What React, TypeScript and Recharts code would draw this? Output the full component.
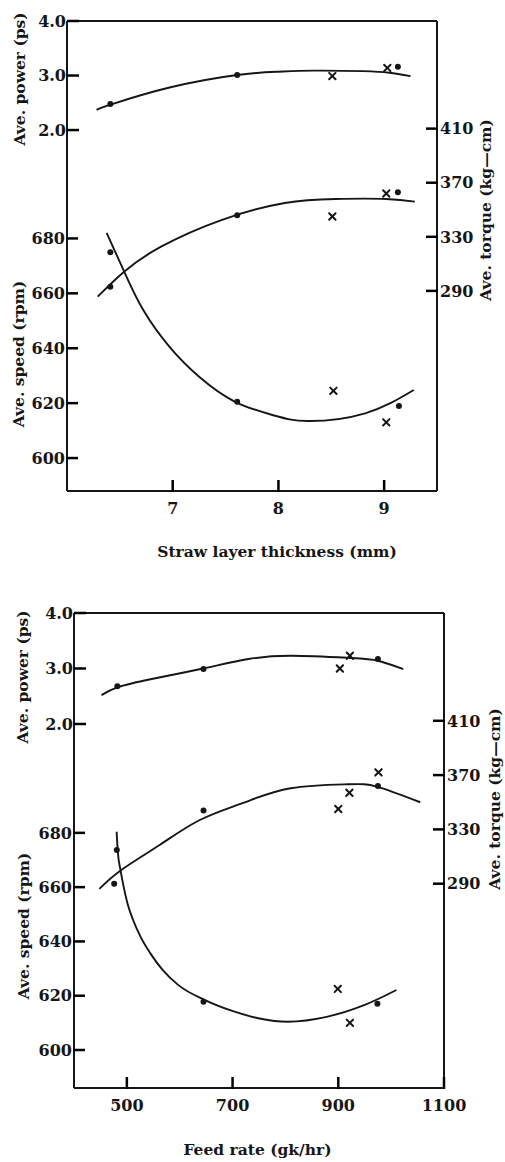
import React from 'react';
import { ComposedChart, Line, Scatter, XAxis, YAxis, ReferenceLine } from 'recharts';

const FONT = '"DejaVu Serif", "Liberation Serif", serif';
const INK = '#161616';
const TICK_INK = '#000000';

// Shared y-axis ticks
const powerTicks = [2, 3, 4];
const speedTicks = [600, 620, 640, 660, 680];
const torqueTicks = [290, 330, 370, 410];

// Panel 1: straw layer thickness (mm)
const thicknessTicks = [7, 8, 9];
const thicknessPowerDotX = [6.41, 7.61, 9.13];
const thicknessPowerDots = [2.48, 3.01, 3.16];
const thicknessPowerCrossX = [8.51, 9.03];
const thicknessPowerCrosses = [2.99, 3.14];
const thicknessTorqueDotX = [6.41, 7.61, 9.13];
const thicknessTorqueDots = [293, 346, 363];
const thicknessTorqueCrossX = [8.51, 9.02];
const thicknessTorqueCrosses = [345, 362];
const thicknessSpeedDotX = [6.41, 7.61, 9.14];
const thicknessSpeedDots = [675, 620.5, 619];
const thicknessSpeedCrossX = [8.52, 9.02];
const thicknessSpeedCrosses = [624.5, 613];
const thicknessPowerCurveX = [6.28, 6.42, 6.97, 7.61, 8.0, 8.33, 8.8, 9.05, 9.25];
const thicknessPowerCurveY = [2.37, 2.47, 2.78, 3.01, 3.07, 3.09, 3.08, 3.05, 2.99];
const thicknessTorqueCurveX = [6.29, 6.54, 6.89, 7.46, 8.06, 8.54, 9.02, 9.29];
const thicknessTorqueCurveY = [285.7, 304.2, 322.7, 342.4, 355, 358, 358, 356];
const thicknessSpeedCurveX = [6.375, 6.54, 6.72, 6.97, 7.25, 7.59, 7.95, 8.28, 8.82, 9.28];
const thicknessSpeedCurveY = [682, 668, 654, 640.5, 629.6, 620.5, 615.6, 613.5, 616.3, 624.8];

// Panel 2: feed rate (gk/hr)
const feedTicks = [500, 700, 900, 1100];
const feedPowerDotX = [482, 645, 975];
const feedPowerDots = [2.68, 2.99, 3.17];
const feedPowerCrossX = [903, 922];
const feedPowerCrosses = [3.0, 3.23];
const feedTorqueDotX = [476, 645, 975];
const feedTorqueDots = [290, 344, 362];
const feedTorqueCrossX = [900, 921, 976];
const feedTorqueCrosses = [345, 357, 372];
const feedSpeedDotX = [481, 645, 974];
const feedSpeedDots = [673.7, 617.8, 617];
const feedSpeedCrossX = [899, 922];
const feedSpeedCrosses = [622.5, 610];
const feedPowerCurveX = [452, 482, 547, 644, 730, 812, 922, 975, 1023];
const feedPowerCurveY = [2.52, 2.66, 2.81, 3.0, 3.17, 3.23, 3.19, 3.14, 2.99];
const feedTorqueCurveX = [448, 489.5, 562, 638, 720, 810, 917, 973, 1055];
const feedTorqueCurveY = [286.2, 300.1, 318.5, 336.9, 349.5, 360.3, 363.2, 361.5, 350];
const feedSpeedCurveX = [480.6, 483.2, 488, 494, 501.2, 511.8, 526, 544.5, 567.6, 597.5, 647.8, 698, 748.5, 804.5, 880, 950, 1010];
const feedSpeedCurveY = [680.4, 672.4, 666.3, 660.1, 654.0, 647.9, 641.7, 635.6, 629.5, 623.9, 618.4, 614.5, 611.7, 610.4, 612.3, 616.6, 622.1];

type Pt = { x: number; y: number };
const zip = (xs: number[], ys: number[]): Pt[] => xs.map((x, i) => ({ x, y: ys[i] }));

const DotMark = (p: any) => <circle cx={p.cx} cy={p.cy} r={3} fill={INK} />;
const CrossMark = (p: any) => (
  <g stroke={INK} strokeWidth={2} strokeLinecap="round">
    <line x1={p.cx - 3.2} y1={p.cy - 3.2} x2={p.cx + 3.2} y2={p.cy + 3.2} />
    <line x1={p.cx - 3.2} y1={p.cy + 3.2} x2={p.cx + 3.2} y2={p.cy - 3.2} />
  </g>
);

const textAttrs = { fill: INK, fontSize: 16, fontFamily: FONT, fontWeight: 700 };
const lineStyle = { stroke: INK, strokeWidth: 2 };
const labelStyle = { fill: INK, fontSize: 15.5, fontFamily: FONT, fontWeight: 700 };
const TICK_LEN = 11;
const TICK_W = 2.5;

// Inward tick marks with the numbers kept outside the frame
const leftTick = (digits: number) => (p: any) => (
  <g>
    <line x1={p.x} y1={p.y} x2={p.x + 1 + TICK_LEN} y2={p.y} stroke={TICK_INK} strokeWidth={TICK_W} />
    <text x={p.x - 1} y={p.y} dy="0.36em" textAnchor="end" {...textAttrs}>
      {Number(p.payload.value).toFixed(digits)}
    </text>
  </g>
);
const rightTick = (p: any) => (
  <g>
    <line x1={p.x - 2} y1={p.y} x2={p.x - 3 - TICK_LEN} y2={p.y} stroke={TICK_INK} strokeWidth={TICK_W} />
    <text x={p.x} y={p.y} dy="0.36em" textAnchor="start" {...textAttrs}>
      {p.payload.value}
    </text>
  </g>
);
const bottomTick = (p: any) => (
  <g>
    <line x1={p.x} y1={p.y - 11} x2={p.x} y2={p.y - 12 - TICK_LEN} stroke={TICK_INK} strokeWidth={TICK_W} />
    <text x={p.x} y={p.y} dy="0.71em" textAnchor="middle" {...textAttrs}>
      {p.payload.value}
    </text>
  </g>
);

type Series = { curve: Pt[]; dots: Pt[]; crosses: Pt[]; curveType: 'natural' | 'monotone' };

type PanelProps = {
  top: number;
  height: number;
  margin: { top: number; right: number; bottom: number; left: number };
  xAxisHeight: number;
  xDomain: [number, number];
  xTicks: number[];
  xLabel: string;
  xLabelOffset: number;
  xLabelDx: number;
  powerDomain: [number, number];
  speedDomain: [number, number];
  torqueDomain: [number, number];
  power: Series;
  speed: Series;
  torque: Series;
  powerLabelShift: [number, number];
  speedLabelShift: [number, number];
  torqueLabelShift: [number, number];
};

const powerTick = leftTick(1);
const speedTick = leftTick(0);

function Panel(props: PanelProps) {
  const {
    top, height, margin, xAxisHeight, xDomain, xTicks, xLabel, xLabelOffset, xLabelDx,
    powerDomain, speedDomain, torqueDomain, power, speed, torque,
    powerLabelShift, speedLabelShift, torqueLabelShift,
  } = props;

  const renderSeries = (s: Series, axis: string) => [
    <Line
      key={axis + '-curve'}
      yAxisId={axis}
      data={s.curve}
      dataKey="y"
      type={s.curveType}
      stroke={INK}
      strokeWidth={1.9}
      dot={false}
      activeDot={false}
      isAnimationActive={false}
    />,
    <Scatter
      key={axis + '-dots'}
      yAxisId={axis}
      data={s.dots}
      dataKey="y"
      shape={DotMark}
      isAnimationActive={false}
    />,
    <Scatter
      key={axis + '-crosses'}
      yAxisId={axis}
      data={s.crosses}
      dataKey="y"
      shape={CrossMark}
      isAnimationActive={false}
    />,
  ];

  return (
    <div style={{ position: 'absolute', left: 0, top, width: 505, height }}>
      <ComposedChart width={505} height={height} margin={margin}>
        <XAxis
          type="number"
          dataKey="x"
          domain={xDomain}
          ticks={xTicks}
          interval={0}
          allowDataOverflow
          height={xAxisHeight}
          tick={bottomTick}
          tickLine={false}
          axisLine={lineStyle}
          tickSize={0}
          tickMargin={12}
          label={{ value: xLabel, position: 'insideTop', offset: xLabelOffset, dx: xLabelDx, ...labelStyle }}
        />
        <YAxis
          yAxisId="power"
          orientation="left"
          dataKey="y"
          type="number"
          width={1}
          domain={powerDomain}
          ticks={powerTicks}
          interval={0}
          allowDataOverflow
          tick={powerTick}
          tickLine={false}
          axisLine={lineStyle}
          tickSize={0}
          tickMargin={0}
          label={{ value: 'Ave. power (ps)', angle: -90, position: 'center', dx: powerLabelShift[0], dy: powerLabelShift[1], ...labelStyle }}
        />
        <YAxis
          yAxisId="speed"
          orientation="left"
          dataKey="y"
          type="number"
          width={1}
          domain={speedDomain}
          ticks={speedTicks}
          interval={0}
          allowDataOverflow
          tick={speedTick}
          tickLine={false}
          axisLine={false}
          tickSize={0}
          tickMargin={0}
          label={{ value: 'Ave. speed (rpm)', angle: -90, position: 'center', dx: speedLabelShift[0], dy: speedLabelShift[1], ...labelStyle }}
        />
        <YAxis
          yAxisId="torque"
          orientation="right"
          dataKey="y"
          type="number"
          width={1}
          domain={torqueDomain}
          ticks={torqueTicks}
          interval={0}
          allowDataOverflow
          tick={rightTick}
          tickLine={false}
          axisLine={lineStyle}
          tickSize={0}
          tickMargin={3}
          label={{ value: 'Ave. torque (kg—cm)', angle: -90, position: 'center', dx: torqueLabelShift[0], dy: torqueLabelShift[1], ...labelStyle }}
        />
        <ReferenceLine yAxisId="power" y={powerDomain[1]} stroke={INK} strokeWidth={2} />
        {renderSeries(power, 'power')}
        {renderSeries(torque, 'torque')}
        {renderSeries(speed, 'speed')}
      </ComposedChart>
    </div>
  );
}

export default function App() {
  return (
    <div style={{ position: 'absolute', left: 0, top: 0, width: 505, height: 1162, background: '#ffffff' }}>
      <Panel
        top={0}
        height={570}
        margin={{ top: 21, right: 67, bottom: 0, left: 65 }}
        xAxisHeight={79}
        xDomain={[6, 9.5]}
        xTicks={thicknessTicks}
        xLabel="Straw layer thickness (mm)"
        xLabelOffset={55}
        xLabelDx={25}
        powerDomain={[-4.62, 4]}
        speedDomain={[588, 759.2]}
        torqueDomain={[142, 489.6]}
        power={{
          curve: zip(thicknessPowerCurveX, thicknessPowerCurveY),
          dots: zip(thicknessPowerDotX, thicknessPowerDots),
          crosses: zip(thicknessPowerCrossX, thicknessPowerCrosses),
          curveType: 'natural',
        }}
        speed={{
          curve: zip(thicknessSpeedCurveX, thicknessSpeedCurveY),
          dots: zip(thicknessSpeedDotX, thicknessSpeedDots),
          crosses: zip(thicknessSpeedCrossX, thicknessSpeedCrosses),
          curveType: 'natural',
        }}
        torque={{
          curve: zip(thicknessTorqueCurveX, thicknessTorqueCurveY),
          dots: zip(thicknessTorqueDotX, thicknessTorqueDots),
          crosses: zip(thicknessTorqueCrossX, thicknessTorqueCrosses),
          curveType: 'natural',
        }}
        powerLabelShift={[-47, -177]}
        speedLabelShift={[-47, 98]}
        torqueLabelShift={[48, -46]}
      />
      <Panel
        top={580}
        height={582}
        margin={{ top: 33, right: 60, bottom: 0, left: 72 }}
        xAxisHeight={74}
        xDomain={[400, 1100]}
        xTicks={feedTicks}
        xLabel="Feed rate (gk/hr)"
        xLabelOffset={56}
        xLabelDx={-1.5}
        powerDomain={[-4.56, 4]}
        speedDomain={[586, 761]}
        torqueDomain={[139.5, 489.4]}
        power={{
          curve: zip(feedPowerCurveX, feedPowerCurveY),
          dots: zip(feedPowerDotX, feedPowerDots),
          crosses: zip(feedPowerCrossX, feedPowerCrosses),
          curveType: 'natural',
        }}
        speed={{
          curve: zip(feedSpeedCurveX, feedSpeedCurveY),
          dots: zip(feedSpeedDotX, feedSpeedDots),
          crosses: zip(feedSpeedCrossX, feedSpeedCrosses),
          curveType: 'monotone',
        }}
        torque={{
          curve: zip(feedTorqueCurveX, feedTorqueCurveY),
          dots: zip(feedTorqueDotX, feedTorqueDots),
          crosses: zip(feedTorqueCrossX, feedTorqueCrosses),
          curveType: 'natural',
        }}
        powerLabelShift={[-51, -173.5]}
        speedLabelShift={[-49, 75.5]}
        torqueLabelShift={[50, -51.5]}
      />
    </div>
  );
}
